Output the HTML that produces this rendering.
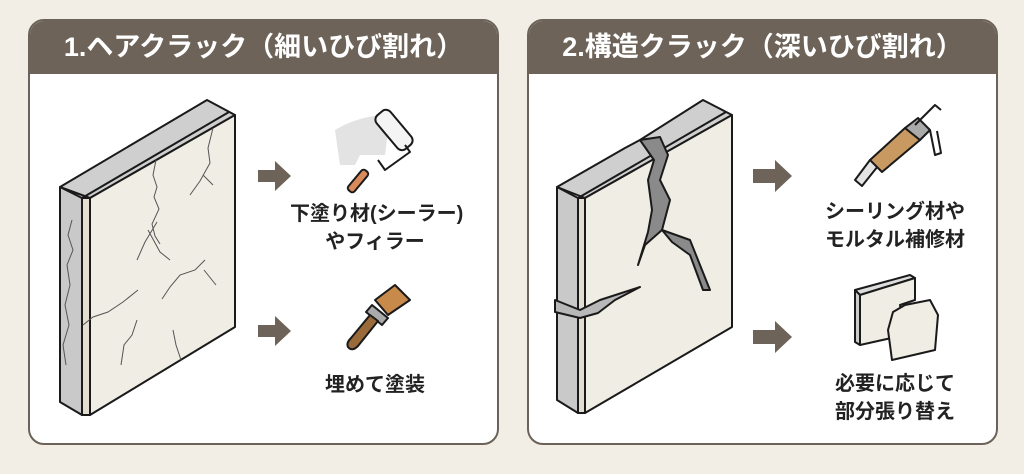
<!DOCTYPE html>
<html><head><meta charset="utf-8"><style>
body{margin:0;width:1024px;height:474px;background:#f2eee6;font-family:"Liberation Sans","Noto Sans CJK JP",sans-serif;position:relative;overflow:hidden}
.p{position:absolute;top:19px;height:426px;background:#fff;border:2px solid #6b6259;border-radius:16px;box-sizing:border-box;overflow:hidden}
.h{height:53px;background:#6d6359;color:#fff;font-weight:bold;font-size:27px;text-align:center;line-height:53px}
.t{position:absolute;font-weight:bold;font-size:20px;color:#222;text-align:center;line-height:28px;white-space:nowrap}
svg{position:absolute;left:0;top:0}
</style></head><body>
<div class="p" style="left:28px;width:471px"><div class="h">1.ヘアクラック（細いひび割れ）</div></div>
<div class="p" style="left:527px;width:471px"><div class="h">2.構造クラック（深いひび割れ）</div></div>
<svg width="1024" height="474" viewBox="0 0 1024 474">
<g stroke="#1a1a1a" stroke-width="2" stroke-linejoin="round">
<!-- left wall -->
<polygon points="60,187 207,100 235,115 90,198" fill="#cfcfcf"/>
<polygon points="60,187 82,198 82,415 60,402" fill="#c9c9c9"/>
<polygon points="82,198 90,198 90,415 82,415" fill="#e2ddd0"/>
<polygon points="90,198 235,115 235,327 90,415" fill="#f0ede4"/>
<line x1="82" y1="198" x2="229" y2="112"/>
</g>
<g fill="none" stroke="#555" stroke-width="1">
<path d="M156,160 l-3,15 4,12 -3,10 5,12 -7,15 3,12 5,8 M157,222 l-12,20 -8,18 M148,230 l12,22 10,8"/>
<path d="M213,128 l-5,20 2,15 -10,18 -10,14 M203,175 l10,10"/>
<path d="M138,290 l-15,12 -15,10 -15,5 -10,8 M205,260 l-10,10 -15,5 -10,12 -8,12 M204,270 l12,15"/>
<path d="M137,320 l-5,15 -8,10 -3,20 M173,330 l3,15 5,15"/>
<path d="M72,220 l-4,15 5,15 -6,15 3,20 -5,20 4,20 -6,20 3,20"/>
</g>
<!-- right wall -->
<g stroke="#1a1a1a" stroke-width="2" stroke-linejoin="round">
<polygon points="557,187 625,148 640,140 703,100 732,115 585,198" fill="#cfcfcf"/>
<polygon points="557,187 578,198 578,413 557,400" fill="#c9c9c9"/>
<polygon points="578,198 585,198 585,413 578,413" fill="#e2ddd0"/>
<polygon points="585,198 732,115 732,327 585,413" fill="#f0ede4"/>
<line x1="578" y1="198" x2="726" y2="112"/>
<polygon points="640,140 660,137 668,155 660,180 670,200 662,230 645,245 638,265 648,232 652,210 648,180 654,160" fill="#8a8a8a"/>
<polygon points="662,230 690,240 700,265 710,290 703,290 690,255 672,242" fill="#8a8a8a"/>
<polygon points="555,300 580,310 600,300 640,287 615,300 598,313 580,318 555,312" fill="#b8b8b8"/>
</g>
<!-- arrows -->
<g fill="#6d6359">
<polygon points="258,170 275,170 275,161 291,176 275,191 275,182 258,182"/>
<polygon points="258,325 275,325 275,316 291,331 275,346 275,337 258,337"/>
<polygon points="753,169 775,169 775,160 792,176 775,192 775,183 753,183"/>
<polygon points="753,330 775,330 775,321 792,337 775,353 775,344 753,344"/>
</g>
<!-- roller -->
<path d="M335,130 q25,-15 55,-15 l-5,40 -25,0 -5,10 -15,0z" fill="#e3e3e3"/>
<g stroke="#1a1a1a" stroke-width="2" stroke-linejoin="round">
<rect x="385" y="108" width="18" height="44" rx="6" transform="rotate(-40 394 130)" fill="#f4f4f4"/>
<polyline points="405,145 410,152 385,170 378,160" fill="none"/>
<rect x="354" y="168" width="8" height="26" rx="3" transform="rotate(40 358 181)" fill="#d98a5a"/>
</g>
<!-- brush -->
<g stroke="#1a1a1a" stroke-width="2" stroke-linejoin="round">
<polygon points="375,300 395,285 410,300 388,315" fill="#c78a4a"/>
<polygon points="372,305 388,318 382,325 366,312" fill="#aaa"/>
<path d="M370,315 l8,6 -20,25 q-6,6 -10,1 q-2,-4 3,-9z" fill="#9a6a3a"/>
</g>
<!-- caulk gun -->
<g stroke="#1a1a1a" stroke-width="2" stroke-linejoin="round">
<polygon points="855,180 870,160 878,166 862,186" fill="#e4e4e4"/>
<polygon points="870,160 905,128 920,140 882,172" fill="#c89a62"/>
<polygon points="905,128 918,118 930,130 920,140" fill="#aaa"/>
<path d="M915,125 l20,-20 6,5 M930,130 l5,25 6,-2 -4,-22" fill="none"/>
</g>
<!-- panels -->
<g stroke="#1a1a1a" stroke-width="2" stroke-linejoin="round">
<polygon points="855,290 910,275 915,278 860,295" fill="#ddd"/>
<polygon points="855,290 860,295 860,345 855,342" fill="#ccc"/>
<polygon points="860,295 915,278 915,300 900,305 905,335 860,345" fill="#f0ede4"/>
<polygon points="893,312 905,305 930,300 938,315 935,350 892,360 888,330" fill="#f0ede4"/>
</g>
</svg>
<div class="t" style="left:290px;top:200px;width:170px">下塗り材(シーラー)<br>やフィラー</div>
<div class="t" style="left:300px;top:371px;width:150px">埋めて塗装</div>
<div class="t" style="left:810px;top:198px;width:170px">シーリング材や<br>モルタル補修材</div>
<div class="t" style="left:810px;top:370px;width:170px">必要に応じて<br>部分張り替え</div>
</body></html>
